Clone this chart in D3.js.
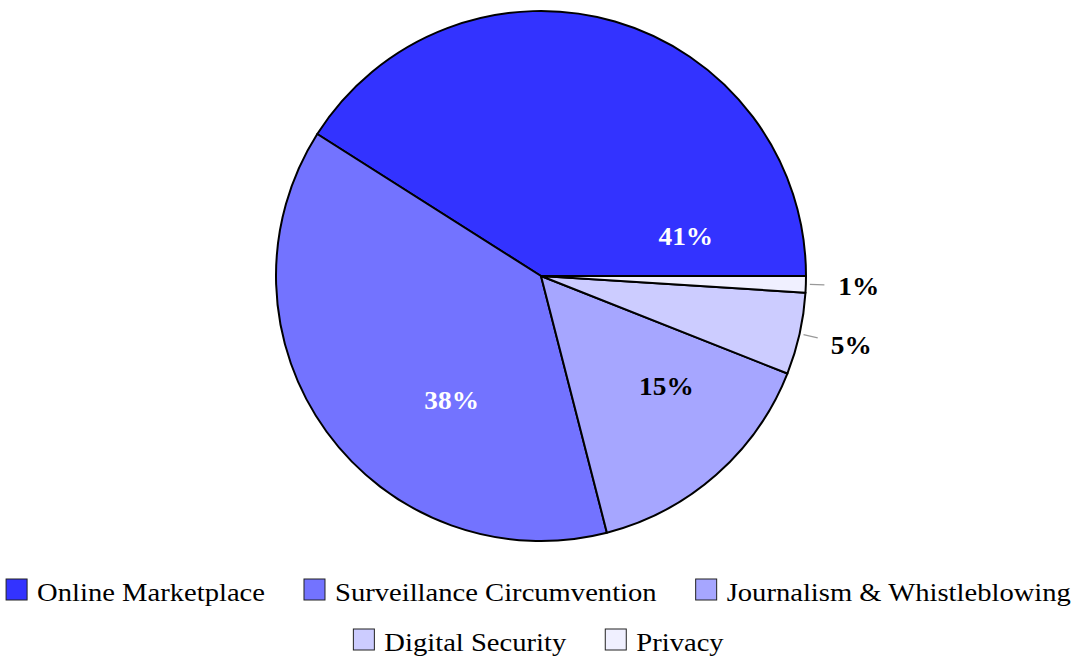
<!doctype html>
<html lang="en">
  <head>
    <meta charset="utf-8">
    <title>Pie chart</title>
    <script src="https://d3js.org/d3.v7.min.js"></script>
    <style>
    body { margin: 0; background: #fff; }
    text { font-family: "Liberation Serif", "DejaVu Serif", serif; }
    </style>
  </head>
  <body>
    <svg width="1075" height="657"></svg>

    <script>
      var categories = ['Online Marketplace', 'Surveillance Circumvention', 'Journalism & Whistleblowing', 'Digital Security', 'Privacy'];
      var values = [41, 38, 15, 5, 1];
      var colors = ['#3333ff', '#7373ff', '#a6a6ff', '#ccccff', '#f0f0ff'];
      var labelColors = ['#fff', '#fff', '#000', '#000', '#000'];

      // where each percent label sits: angle in degrees (ccw from east) and radius fraction
      var labelAngle = [15.4, 234.3, 318.7, 347.4, 358.2];
      var labelRadius = [0.567, 0.578, 0.63, 1.2, 1.2];
      var outside = [false, false, false, true, true];

      var svg = d3.select('svg');
      var cx = 541, cy = 276, r = 265;
      var stretch = 1.1; // the original face is wider than Liberation Serif

      var g = svg.append('g').attr('transform', 'translate(' + cx + ',' + cy + ')');

      // start at east, go counterclockwise
      var pie = d3.pie()
        .sort(null)
        .startAngle(Math.PI / 2)
        .endAngle(Math.PI / 2 - 2 * Math.PI);

      var arcs = pie(values);
      var arc = d3.arc().innerRadius(0).outerRadius(r);

      g.selectAll('path.slice').data(arcs)
        .enter()
          .append('path')
          .attr('class', 'slice')
          .attr('d', arc)
          .attr('fill', function(d, i){ return colors[i]; })
          .attr('stroke', '#000')
          .attr('stroke-width', 2)
          .attr('stroke-linejoin', 'round');

      function polar(deg, rad) {
        var a = deg * Math.PI / 180;
        return [rad * Math.cos(a), -rad * Math.sin(a)];
      }

      // leader lines for the small slices
      arcs.forEach(function(d, i){
        if (!outside[i]) return;
        var mid = (d.startAngle + d.endAngle) / 2; // d3 angle, clockwise from north
        var deg = 90 - mid * 180 / Math.PI;
        var p0 = polar(deg, r * 1.015), p1 = polar(deg, r * 1.07);
        g.append('line')
          .attr('x1', p0[0]).attr('y1', p0[1])
          .attr('x2', p1[0]).attr('y2', p1[1])
          .attr('stroke', '#999')
          .attr('stroke-width', 1.2);
      });

      g.selectAll('text.pct').data(arcs)
        .enter()
          .append('text')
          .attr('class', 'pct')
          .attr('x', function(d, i){ return polar(labelAngle[i], r * labelRadius[i])[0]; })
          .attr('y', function(d, i){ return polar(labelAngle[i], r * labelRadius[i])[1]; })
          .attr('dy', '0.35em')
          .attr('text-anchor', 'middle')
          .attr('font-weight', 'bold')
          .attr('font-size', 26)
          .attr('fill', function(d, i){ return labelColors[i]; })
          .text(function(d){ return d.data + '%'; })
          .each(function(){
            var w = this.getComputedTextLength();
            d3.select(this).attr('textLength', w * 1.05).attr('lengthAdjust', 'spacingAndGlyphs');
          });

      // legend, two centred rows
      var rows = [[0, 1, 2], [3, 4]];
      var rowBase = [601, 651];
      var box = 21, boxGap = 10, itemGap = 39, fs = 26;

      rows.forEach(function(row, ri){
        var lg = svg.append('g');
        var x = 0;
        row.forEach(function(i, k){
          var item = lg.append('g').attr('transform', 'translate(' + x + ',0)');
          item.append('rect')
            .attr('x', 0).attr('y', rowBase[ri] - 22)
            .attr('width', box).attr('height', box)
            .attr('fill', colors[i])
            .attr('stroke', '#222')
            .attr('stroke-width', 1);
          var t = item.append('text')
            .attr('x', box + boxGap)
            .attr('y', rowBase[ri])
            .attr('font-size', fs)
            .text(categories[i]);
          var w = t.node().getComputedTextLength() * stretch;
          t.attr('textLength', w).attr('lengthAdjust', 'spacingAndGlyphs');
          x += box + boxGap + w + (k < row.length - 1 ? itemGap : 0);
        });
        lg.attr('transform', 'translate(' + ((1075 - x) / 2 + 1) + ',0)');
      });
    </script>
  </body>
</html>
